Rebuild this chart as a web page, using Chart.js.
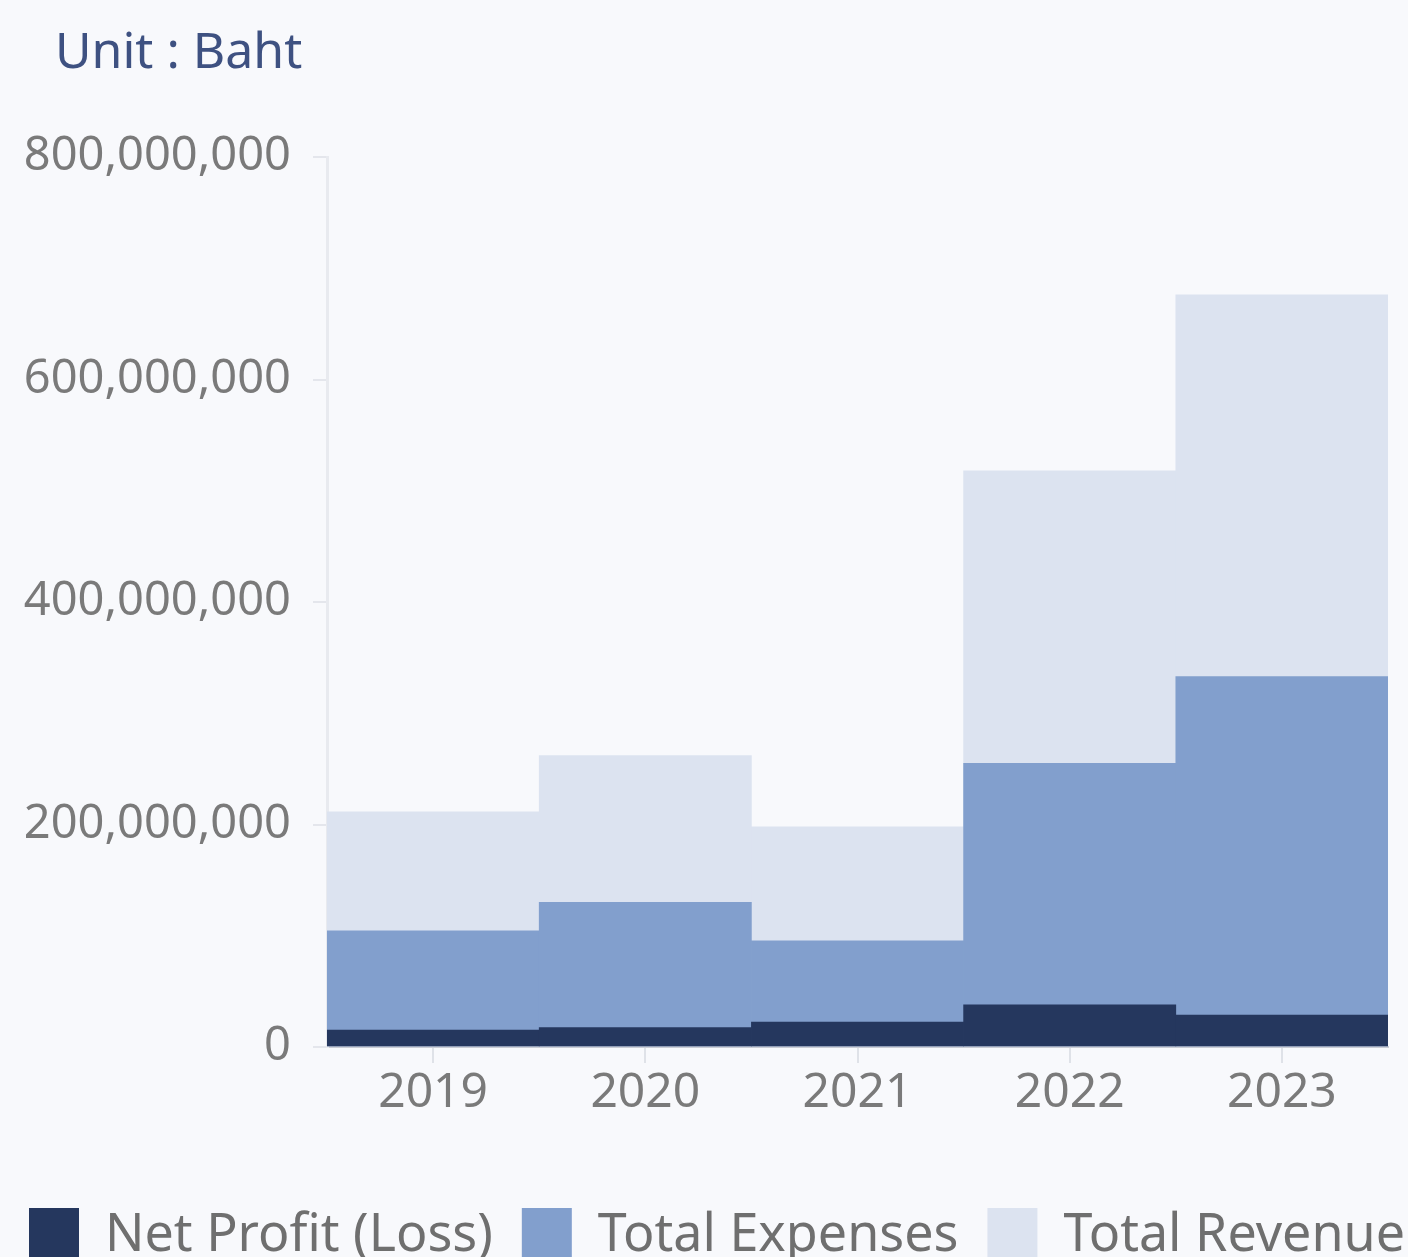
<!DOCTYPE html>
<html>
<head>
<meta charset="utf-8">
<script src="https://cdn.jsdelivr.net/npm/chart.js@4.4.0/dist/chart.umd.min.js"></script>
<style>
  html, body { margin: 0; padding: 0; background: #f8f9fc; overflow: hidden; }
  #wrap { position: relative; width: 1408px; height: 1257px; overflow: hidden; }
  #unit { position: absolute; left: 55px; top: 15px; font-family: "Noto Sans", sans-serif; font-size: 50px; color: #3e5181; }
  #cv { position: absolute; left: 0; top: 0; }
</style>
</head>
<body>
<div id="wrap">
  <canvas id="cv" width="1600" height="1274" style="width:1600px;height:1274px"></canvas>
  <div id="unit">Unit : Baht</div>
</div>
<script>
const years = ["2019", "2020", "2021", "2022", "2023"];
const netProfit = [15300000, 17500000, 22500000, 37800000, 28800000];
const totalExpenses = [104500000, 130000000, 95500000, 255000000, 333000000];
const totalRevenue = [211500000, 262000000, 198000000, 518000000, 676000000];
const yTicks = [0, 200000000, 400000000, 600000000, 800000000];

const FONT = '"Noto Sans", sans-serif';

new Chart(document.getElementById('cv'), {
  type: 'bar',
  data: {
    labels: years,
    datasets: [
      { label: 'Net Profit (Loss)', data: netProfit, backgroundColor: '#25375e', order: 1 },
      { label: 'Total Expenses', data: totalExpenses, backgroundColor: '#829fcd', order: 2 },
      { label: 'Total Revenue', data: totalRevenue, backgroundColor: '#dce3f0', order: 3 }
    ]
  },
  options: {
    responsive: false,
    animation: false,
    devicePixelRatio: 1,
    layout: { padding: { top: 157, right: 0, left: 0, bottom: 0 } },
    datasets: { bar: { categoryPercentage: 1, barPercentage: 1, borderWidth: 0 } },
    plugins: {
      tooltip: { enabled: false },
      legend: {
        position: 'bottom',
        align: 'start',
        labels: {
          boxWidth: 50,
          boxHeight: 56,
          padding: 29,
          color: '#6f6f6f',
          font: { family: FONT, size: 52 }
        }
      }
    },
    scales: {
      x: {
        stacked: true,
        grid: { offset: false, drawOnChartArea: false, drawTicks: true, tickLength: 16, color: '#dfe2e8', lineWidth: 2 },
        border: { display: true, color: '#c9ccd4', width: 2 },
        ticks: { color: '#7a7a7a', font: { family: FONT, size: 48 }, padding: 2 },
        afterFit: (s) => { s.height = 132; }
      },
      y: {
        stacked: false,
        min: 0,
        max: 800000000,
        afterBuildTicks: (s) => { s.ticks = yTicks.map(v => ({ value: v })); },
        grid: { drawOnChartArea: false, drawTicks: true, tickLength: 14, color: '#e4e6ec', lineWidth: 2 },
        border: { display: true, color: '#e8eaef', width: 3 },
        ticks: {
          color: '#7a7a7a',
          font: { family: FONT, size: 47 },
          padding: 22,
          callback: (v) => Number(v).toLocaleString('en-US')
        },
        afterFit: (s) => { s.width = 327; }
      },
      ySpacer: {
        position: 'right',
        display: true,
        min: 0,
        max: 1,
        grid: { display: false },
        border: { display: false },
        ticks: { display: false },
        afterFit: (s) => { s.width = 212; }
      }
    }
  }
});
</script>
</body>
</html>
